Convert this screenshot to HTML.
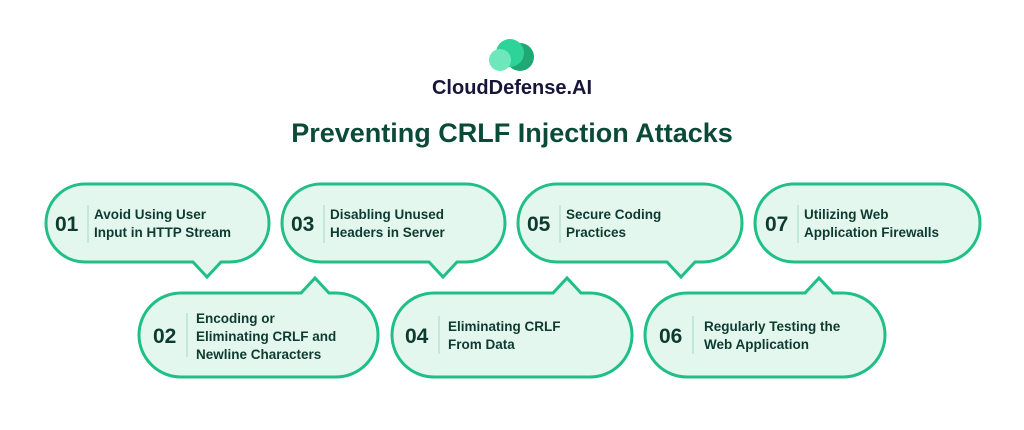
<!DOCTYPE html>
<html><head><meta charset="utf-8"><style>
body{margin:0;width:1024px;height:430px;background:#fff;overflow:hidden}
svg{display:block}
text{font-family:"Liberation Sans",sans-serif;font-weight:bold}
.n{font-size:21px;fill:#0d3b2f}
.t{font-size:13.5px;fill:#0d3b2f}
.b{fill:#e4f7ef;stroke:#1fbf87;stroke-width:3}
.d{stroke:#9fd9c2;stroke-width:1}
</style></head><body>
<svg width="1024" height="430" viewBox="0 0 1024 430">
<circle cx="520" cy="57" r="14" fill="#1fa874"/>
<circle cx="510" cy="53" r="14" fill="#2ed39a"/>
<circle cx="500" cy="60" r="11" fill="#6ee8bb"/>
<text x="512" y="94" text-anchor="middle" style="font-size:20px;fill:#17163a">CloudDefense.AI</text>
<text x="512" y="142" text-anchor="middle" style="font-size:27px;fill:#0c4a38">Preventing CRLF Injection Attacks</text>

<path class="b" d="M85,184 H230 A39,39 0 0 1 230,262 H221 L207,277 L193,262 H85 A39,39 0 0 1 85,184Z"/>
<path class="b" d="M321,184 H466 A39,39 0 0 1 466,262 H457 L443,277 L429,262 H321 A39,39 0 0 1 321,184Z"/>
<path class="b" d="M557,184 H703 A39,39 0 0 1 703,262 H695 L681,277 L667,262 H557 A39,39 0 0 1 557,184Z"/>
<path class="b" d="M794,184 H941 A39,39 0 0 1 941,262 H794 A39,39 0 0 1 794,184Z"/>
<path class="b" d="M181,293 H301 L315,278 L329,293 H336 A42,42 0 0 1 336,377 H181 A42,42 0 0 1 181,293Z"/>
<path class="b" d="M434,293 H553 L567,278 L581,293 H590 A42,42 0 0 1 590,377 H434 A42,42 0 0 1 434,293Z"/>
<path class="b" d="M687,293 H805 L819,278 L833,293 H843 A42,42 0 0 1 843,377 H687 A42,42 0 0 1 687,293Z"/>

<text class="n" x="55" y="231">01</text><line class="d" x1="88" y1="205" x2="88" y2="243"/>
<text class="t" x="94" y="219">Avoid Using User</text><text class="t" x="94" y="237">Input in HTTP Stream</text>

<text class="n" x="291" y="231">03</text><line class="d" x1="324" y1="205" x2="324" y2="243"/>
<text class="t" x="330" y="219">Disabling Unused</text><text class="t" x="330" y="237">Headers in Server</text>

<text class="n" x="527" y="231">05</text><line class="d" x1="560" y1="205" x2="560" y2="243"/>
<text class="t" x="566" y="219">Secure Coding</text><text class="t" x="566" y="237">Practices</text>

<text class="n" x="765" y="231">07</text><line class="d" x1="798" y1="205" x2="798" y2="243"/>
<text class="t" x="804" y="219">Utilizing Web</text><text class="t" x="804" y="237">Application Firewalls</text>

<text class="n" x="153" y="343">02</text><line class="d" x1="187" y1="313" x2="187" y2="357"/>
<text class="t" x="196" y="323">Encoding or</text><text class="t" x="196" y="341">Eliminating CRLF and</text><text class="t" x="196" y="359">Newline Characters</text>

<text class="n" x="405" y="343">04</text><line class="d" x1="439" y1="316" x2="439" y2="354"/>
<text class="t" x="448" y="331">Eliminating CRLF</text><text class="t" x="448" y="349">From Data</text>

<text class="n" x="659" y="343">06</text><line class="d" x1="693" y1="316" x2="693" y2="354"/>
<text class="t" x="704" y="331">Regularly Testing the</text><text class="t" x="704" y="349">Web Application</text>
</svg>
</body></html>
